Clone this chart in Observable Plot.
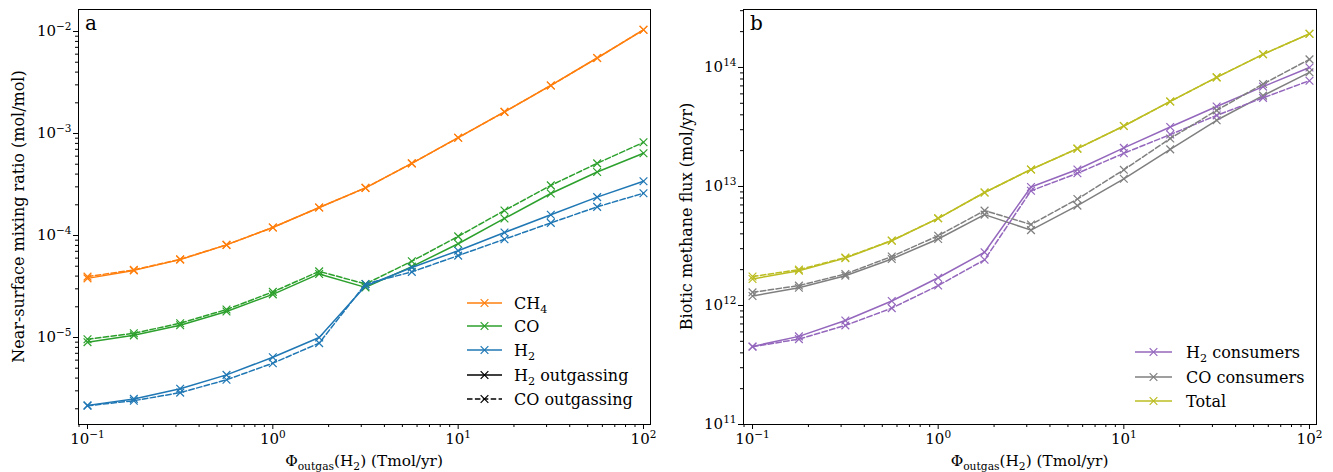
<!DOCTYPE html>
<html><head><meta charset="utf-8">
<script src="https://cdn.jsdelivr.net/npm/d3@7"></script>
<script src="https://cdn.jsdelivr.net/npm/@observablehq/plot@0.6"></script>
<style>
body{margin:0;background:#fff;}
#wrap{position:relative;width:1333px;height:472px;font-family:"DejaVu Serif",serif;}
#wrap svg{position:absolute;top:0;overflow:visible;}
</style></head><body><div id="wrap"></div>
<script>
// ---------- data ----------
const phi = [0.1, 0.1778, 0.3162, 0.5623, 1, 1.778, 3.162, 5.623, 10, 17.78, 31.62, 56.23, 100];

// panel a: near-surface mixing ratio (mol/mol)
const ch4_h2out = [3.8e-5, 4.55e-5, 5.8e-5, 8.1e-5, 1.2e-4, 1.88e-4, 2.93e-4, 5.1e-4, 9.1e-4, 1.63e-3, 2.96e-3, 5.5e-3, 1.04e-2];
const ch4_coout = [3.95e-5, 4.6e-5, 5.85e-5, 8.1e-5, 1.2e-4, 1.88e-4, 2.93e-4, 5.1e-4, 9.1e-4, 1.63e-3, 2.96e-3, 5.5e-3, 1.04e-2];
const co_h2out  = [9.0e-6, 1.05e-5, 1.32e-5, 1.8e-5, 2.65e-5, 4.2e-5, 3.1e-5, 4.95e-5, 8.3e-5, 1.47e-4, 2.58e-4, 4.2e-4, 6.4e-4];
const co_coout  = [9.6e-6, 1.1e-5, 1.38e-5, 1.88e-5, 2.8e-5, 4.45e-5, 3.35e-5, 5.6e-5, 9.8e-5, 1.76e-4, 3.1e-4, 5.1e-4, 8.2e-4];
const h2_h2out  = [2.16e-6, 2.5e-6, 3.15e-6, 4.3e-6, 6.4e-6, 1.0e-5, 3.2e-5, 4.85e-5, 7.1e-5, 1.07e-4, 1.6e-4, 2.38e-4, 3.4e-4];
const h2_coout  = [2.14e-6, 2.4e-6, 2.88e-6, 3.85e-6, 5.6e-6, 8.8e-6, 3.35e-5, 4.4e-5, 6.35e-5, 9.2e-5, 1.33e-4, 1.91e-4, 2.6e-4];

// panel b: biotic methane flux (mol/yr)
const h2c_h2out  = [4.53e11, 5.5e11, 7.48e11, 1.09e12, 1.71e12, 2.8e12, 9.9e12, 1.39e13, 2.11e13, 3.16e13, 4.7e13, 6.9e13, 1.0e14];
const h2c_coout  = [4.5e11, 5.22e11, 6.8e11, 9.5e11, 1.47e12, 2.42e12, 9.2e12, 1.29e13, 1.9e13, 2.73e13, 3.96e13, 5.55e13, 7.74e13];
const coc_h2out  = [1.2e12, 1.41e12, 1.78e12, 2.46e12, 3.62e12, 5.8e12, 4.3e12, 6.9e12, 1.16e13, 2.05e13, 3.6e13, 5.8e13, 9.1e13];
const coc_coout  = [1.29e12, 1.47e12, 1.84e12, 2.58e12, 3.86e12, 6.27e12, 4.79e12, 7.84e12, 1.38e13, 2.53e13, 4.36e13, 7.26e13, 1.17e14];
const tot_h2out  = [1.67e12, 1.96e12, 2.5e12, 3.5e12, 5.4e12, 8.9e12, 1.39e13, 2.08e13, 3.22e13, 5.18e13, 8.26e13, 1.29e14, 1.92e14];
const tot_coout  = [1.75e12, 2.0e12, 2.53e12, 3.52e12, 5.4e12, 8.9e12, 1.39e13, 2.08e13, 3.22e13, 5.18e13, 8.26e13, 1.29e14, 1.92e14];

// ticks
const xTicks = [0.1, 1, 10, 100];
const xTickLabels = ["10⁻¹", "10⁰", "10¹", "10²"];
const yTicksA = [1e-5, 1e-4, 1e-3, 1e-2];
const yTickLabelsA = ["10⁻⁵", "10⁻⁴", "10⁻³", "10⁻²"];
const yTicksB = [1e11, 1e12, 1e13, 1e14];
const yTickLabelsB = ["10¹¹", "10¹²", "10¹³", "10¹⁴"];

// labels
const xLabel = "Φ_{outgas}(H_{2}) (Tmol/yr)";
const yLabelA = "Near-surface mixing ratio (mol/mol)";
const yLabelB = "Biotic methane flux (mol/yr)";
const legendA = ["CH_{4}", "CO", "H_{2}", "H_{2} outgassing", "CO outgassing"];
const legendB = ["H_{2} consumers", "CO consumers", "Total"];

// ---------- drawing ----------
const C = {orange:"#ff7f0e", green:"#2ca02c", blue:"#1f77b4", purple:"#9467bd", grey:"#7f7f7f", olive:"#bcbd22", black:"#000"};
const DASH = "5.5,2.4";
const FS = 15;
const LFS = 16;

function minorTicks(lo, hi, e0, e1) {
  const out = [];
  for (let e = e0; e <= e1; e++) for (let m = 2; m <= 9; m++) {
    const v = m * Math.pow(10, e);
    if (v >= lo && v <= hi) out.push(v);
  }
  return out;
}
const fmt = (ticks, labels) => d => { const i = ticks.indexOf(d); return i >= 0 ? labels[i] : ""; };

const xDomain = [Math.pow(10, -1.0486), Math.pow(10, 2.0378)];

function panel(cfg) {
  const marks = [];
  marks.push(Plot.axisX(minorTicks(xDomain[0], xDomain[1], -2, 2), {anchor:"bottom", tickSize:3, tickFormat:() => "", label:null}));
  marks.push(Plot.axisX(xTicks, {anchor:"bottom", tickSize:5, tickPadding:4, fontSize:FS, tickFormat:fmt(xTicks, xTickLabels), label:null}));
  marks.push(Plot.axisY(minorTicks(cfg.yDomain[0], cfg.yDomain[1], cfg.e0, cfg.e1), {anchor:"left", tickSize:3, tickFormat:() => "", label:null}));
  marks.push(Plot.axisY(cfg.yTicks, {anchor:"left", tickSize:5, tickPadding:2, fontSize:FS, tickFormat:fmt(cfg.yTicks, cfg.yTickLabels), label:null}));
  for (const s of cfg.series) {
    const data = phi.map((x, i) => ({x, y: s.values[i]}));
    marks.push(Plot.line(data, {x:"x", y:"y", stroke:s.color, strokeWidth:1.5, strokeDasharray:s.dash ? DASH : null}));
    marks.push(Plot.dot(data, {x:"x", y:"y", symbol:"times", r:3.6, stroke:s.color, strokeWidth:1.2}));
  }
  marks.push(Plot.frame({stroke:"#000", strokeWidth:1}));
  return Plot.plot({
    width: 665, height: 472,
    marginLeft: 78, marginRight: cfg.marginRight, marginTop: 9, marginBottom: 48,
    x: {type:"log", domain: xDomain},
    y: {type:"log", domain: cfg.yDomain},
    style: {fontFamily:"DejaVu Serif", fontSize:FS + "px", background:"transparent", color:"#000"},
    marks
  });
}

const SUP = {"⁻":"−","⁰":"0","¹":"1","²":"2","³":"3","⁴":"4","⁵":"5","⁶":"6","⁷":"7","⁸":"8","⁹":"9"};
function superscriptTicks(svg) {
  d3.select(svg).selectAll("text").each(function() {
    if (this.querySelector("tspan")) return;
    const t = this.textContent;
    const m = t.match(/^10([⁻⁰¹²³⁴⁵⁶⁷⁸⁹]+)$/);
    if (!m) return;
    const exp = [...m[1]].map(c => SUP[c]).join("");
    this.textContent = "";
    const s = d3.select(this);
    s.append("tspan").text("10");
    s.append("tspan").attr("font-size", FS * 0.7).attr("dy", -6).text(exp);
  });
}

function rich(textSel, str, fs) {
  const parts = str.split(/(_\{[^}]*\})/).filter(p => p);
  let shifted = false;
  for (const p of parts) {
    if (p.startsWith("_{")) {
      textSel.append("tspan").attr("font-size", fs * 0.7).attr("dy", fs * 0.25).text(p.slice(2, -1));
      shifted = true;
    } else {
      const ts = textSel.append("tspan").text(p);
      if (shifted) { ts.attr("dy", -fs * 0.25); shifted = false; }
    }
  }
}

function decorate(svg, o) {
  const g = d3.select(svg).append("g").attr("font-family", "DejaVu Serif").attr("fill", "#000").attr("text-anchor", "start");
  // panel letter
  g.append("text").attr("x", o.letterX).attr("y", 30).attr("font-size", 20).text(o.letter);
  // x label
  rich(g.append("text").attr("x", o.xLabelX).attr("y", 466).attr("text-anchor", "middle").attr("font-size", 15.3), xLabel, 15.3);
  // y label
  g.append("text").attr("transform", `translate(${o.yLabelX},216.5) rotate(-90)`).attr("text-anchor", "middle")
    .attr("dy", "0.35em").attr("font-size", 16).text(o.yLabel);
  // legend
  const lg = g.append("g");
  o.legend.forEach((e, i) => {
    const y = o.legendY[i];
    const x0 = o.legendX[0], x1 = o.legendX[1], xm = (x0 + x1) / 2, h = 3.85;
    lg.append("line").attr("x1", x0).attr("x2", x1).attr("y1", y).attr("y2", y)
      .attr("stroke", e.color).attr("stroke-width", 1.5).attr("stroke-dasharray", e.dash ? DASH : null);
    lg.append("path").attr("d", `M${xm-h},${y-h}L${xm+h},${y+h}M${xm-h},${y+h}L${xm+h},${y-h}`)
      .attr("stroke", e.color).attr("stroke-width", 1.2).attr("fill", "none");
    rich(lg.append("text").attr("x", o.legendX[2]).attr("y", y + LFS * 0.35).attr("font-size", LFS), e.label, LFS);
  });
}

const wrap = document.getElementById("wrap");

const svgA = panel({
  yDomain: [Math.pow(10, -5.853), Math.pow(10, -1.784)], e0: -6, e1: -2,
  yTicks: yTicksA, yTickLabels: yTickLabelsA, marginRight: 15,
  series: [
    {values: ch4_h2out, color: C.orange, dash: false},
    {values: co_h2out, color: C.green, dash: false},
    {values: h2_h2out, color: C.blue, dash: false},
    {values: ch4_coout, color: C.orange, dash: true},
    {values: co_coout, color: C.green, dash: true},
    {values: h2_coout, color: C.blue, dash: true}
  ]
});
svgA.style.left = "0px";
wrap.appendChild(svgA);
superscriptTicks(svgA);
decorate(svgA, {
  letter: "a", letterX: 85, xLabelX: 364, yLabelX: 18, yLabel: yLabelA,
  legend: [
    {label: legendA[0], color: C.orange}, {label: legendA[1], color: C.green}, {label: legendA[2], color: C.blue},
    {label: legendA[3], color: C.black}, {label: legendA[4], color: C.black, dash: true}
  ],
  legendX: [467, 502, 514], legendY: [303, 326, 350, 375, 399]
});

const svgB = panel({
  yDomain: [1e11, Math.pow(10, 14.487)], e0: 11, e1: 14,
  yTicks: yTicksB, yTickLabels: yTickLabelsB, marginRight: 14,
  series: [
    {values: h2c_h2out, color: C.purple, dash: false},
    {values: coc_h2out, color: C.grey, dash: false},
    {values: tot_h2out, color: C.olive, dash: false},
    {values: h2c_coout, color: C.purple, dash: true},
    {values: coc_coout, color: C.grey, dash: true},
    {values: tot_coout, color: C.olive, dash: true}
  ]
});
svgB.style.left = "665px";
wrap.appendChild(svgB);
superscriptTicks(svgB);
decorate(svgB, {
  letter: "b", letterX: 85, xLabelX: 364.5, yLabelX: 21, yLabel: yLabelB,
  legend: [
    {label: legendB[0], color: C.purple}, {label: legendB[1], color: C.grey}, {label: legendB[2], color: C.olive}
  ],
  legendX: [470, 507, 521], legendY: [352, 377, 401]
});
</script>
</body></html>
